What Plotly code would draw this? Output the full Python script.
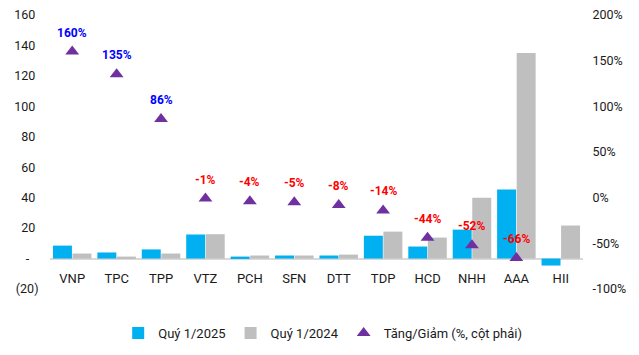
import plotly.graph_objects as go

categories = ["VNP", "TPC", "TPP", "VTZ", "PCH", "SFN", "DTT", "TDP", "HCD", "NHH", "AAA", "HII"]
q1_2025 = [8.5, 4.0, 6.0, 15.8, 1.3, 2.0, 2.0, 15.0, 7.9, 19.0, 45.3, -4.6]
q1_2024 = [3.3, 1.3, 3.3, 16.0, 2.0, 2.0, 2.6, 17.7, 13.8, 40.0, 135.0, 21.7]
change_pct = [160, 135, 86, -1, -4, -5, -8, -14, -44, -52, -66, None]
left_tickvals = [-20, 0, 20, 40, 60, 80, 100, 120, 140, 160]
left_ticktext = ["(20)", "-\u00a0\u00a0\u00a0", "20\u00a0", "40\u00a0", "60\u00a0", "80\u00a0",
                 "100\u00a0", "120\u00a0", "140\u00a0", "160\u00a0"]
right_tickvals = [-100, -50, 0, 50, 100, 150, 200]
right_ticktext = ["-100%", "-50%", "0%", "50%", "100%", "150%", "200%"]

FONT = "Roboto, Arial, sans-serif"

fig = go.Figure()
fig.add_trace(go.Bar(x=categories, y=q1_2025, name="Quý 1/2025",
                     marker=dict(color="#00B0F0", line=dict(width=0))))
fig.add_trace(go.Bar(x=categories, y=q1_2024, name="Quý 1/2024",
                     marker=dict(color="#BFBFBF", line=dict(width=0))))
fig.add_trace(go.Scatter(x=categories, y=change_pct, name="Tăng/Giảm (%, cột phải)",
                         mode="markers", yaxis="y2",
                         marker=dict(symbol="triangle-up", color="#7030A0", size=12)))

for c, v in zip(categories, change_pct):
    if v is None:
        continue
    fig.add_annotation(x=c, y=v, xref="x", yref="y2", text=f"{v}%", showarrow=False,
                       yshift=19, font=dict(family=FONT, size=12,
                                            color="#0000FF" if v > 0 else "#FF0000",
                                            weight="bold"))

fig.update_layout(
    width=639, height=355,
    margin=dict(l=50, r=56, t=15, b=66, autoexpand=False),
    paper_bgcolor="white", plot_bgcolor="white",
    font=dict(family=FONT, size=13, color="#1a1a1a"),
    barmode="group", bargap=0.12, bargroupgap=0.03,
    showlegend=True,
    legend=dict(orientation="h", xref="container", yref="container",
                x=0.505, xanchor="center", y=(355 - 333) / 355, yanchor="middle",
                font=dict(size=13), itemwidth=30, tracegroupgap=0,
                bgcolor="rgba(0,0,0,0)"),
    xaxis=dict(anchor="free", position=0.073, showline=False, ticks="",
               range=[-0.5, len(categories) - 0.5],
               showgrid=False, tickfont=dict(size=13), automargin=False),
    yaxis=dict(range=[-20, 160], tickvals=left_tickvals, ticktext=left_ticktext,
               showgrid=False, zeroline=True, zerolinecolor="#D9D9D9", zerolinewidth=1.5,
               showline=False, ticks="outside", ticklen=8, tickcolor="rgba(0,0,0,0)",
               tickfont=dict(size=12.5), automargin=False),
    yaxis2=dict(range=[-100, 200], tickvals=right_tickvals, ticktext=right_ticktext,
                overlaying="y", side="right", showgrid=False, zeroline=False,
                showline=False, ticks="outside", ticklen=6, tickcolor="rgba(0,0,0,0)",
                tickfont=dict(size=12.5), automargin=False),
)

fig.write_html("out.html", config={"displayModeBar": False})

with open("out.html", "r", encoding="utf-8") as f:
    html = f.read()
html = html.replace("<body>", "<body style=\"margin:0;padding:0;overflow:hidden\">", 1)
with open("out.html", "w", encoding="utf-8") as f:
    f.write(html)
